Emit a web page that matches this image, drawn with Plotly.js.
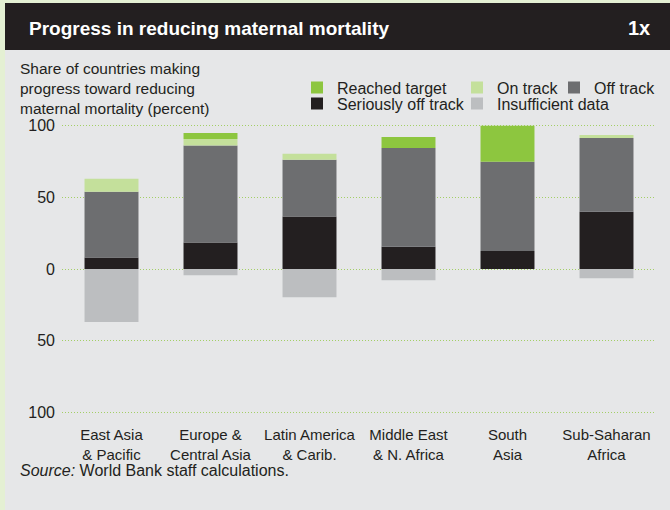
<!DOCTYPE html>
<html>
<head>
<meta charset="utf-8">
<script src="https://cdn.plot.ly/plotly-3.0.1.min.js"></script>
<style>html,body{margin:0;padding:0;background:#e6e7e8;}#chart{width:670px;height:510px;}</style>
</head>
<body>
<div id="chart"></div>
<script>
// ---- data ----
const categories = ["East Asia<br>& Pacific", "Europe &<br>Central Asia", "Latin America<br>& Carib.", "Middle East<br>& N. Africa", "South<br>Asia", "Sub-Saharan<br>Africa"];
const seriouslyOffTrack = [8, 18.6, 36.7, 15.6, 12.5, 40];
const offTrack = [46, 67.7, 39.6, 69, 62.5, 51.6];
const onTrack = [9, 4.6, 4.2, 0, 0, 2.1];
const reachedTarget = [0, 4.2, 0, 7.7, 25, 0];
const insufficientData = [-37, -4.4, -19.8, -7.9, 0, -6.5];
const yTickVals = [-100, -50, 0, 50, 100];
const yTickText = ["100", "50", "0", "50", "100"];
const seriesNames = ["Seriously off track", "Off track", "On track", "Reached target", "Insufficient data"];

// ---- style ----
const W = 670, H = 510;
const FONT = "Liberation Sans, Arial, sans-serif";
const DARK = "#231f20";
const colors = {
  "Reached target": "#8dc63f",
  "On track": "#c4e09b",
  "Off track": "#6d6e70",
  "Seriously off track": "#231f20",
  "Insufficient data": "#bcbec0"
};
const M = {l: 62, r: 14, t: 123, b: 95, pad: 0, autoexpand: false};
const PW = W - M.l - M.r, PH = H - M.t - M.b;
const px = x => (x - M.l) / PW;
const py = y => (H - M.b - y) / PH;

// legend placement: [x of legend box left, y center] in px
const legendSpots = {
  "Reached target": [297, 87.5],
  "On track": [457, 87.5],
  "Off track": [554, 87.5],
  "Seriously off track": [297, 103.5],
  "Insufficient data": [457, 103.5]
};

const seriesValues = [seriouslyOffTrack, offTrack, onTrack, reachedTarget, insufficientData];
const legendIds = {
  "Reached target": "legend",
  "On track": "legend2",
  "Off track": "legend3",
  "Seriously off track": "legend4",
  "Insufficient data": "legend5"
};

const traces = seriesNames.map((name, i) => ({
  type: "bar",
  name: name,
  x: categories,
  y: seriesValues[i],
  marker: {color: colors[name], line: {width: 0}},
  legend: legendIds[name],
  hoverinfo: "x+y+name"
}));

const layout = {
  width: W, height: H,
  margin: M,
  paper_bgcolor: "#e4f0d3",
  plot_bgcolor: "rgba(0,0,0,0)",
  barmode: "relative",
  bargap: 0.455,
  font: {family: FONT, color: DARK, size: 15},
  title: {
    text: "<b>Progress in reducing maternal mortality</b>",
    font: {family: FONT, size: 19, color: "#ffffff"},
    xref: "container", yref: "container",
    x: 29 / W, y: 1 - 28 / H, xanchor: "left", yanchor: "middle"
  },
  xaxis: {
    type: "category",
    range: [-0.5, 5.5],
    showgrid: false, zeroline: false, showline: false,
    ticks: "", tickfont: {family: FONT, size: 15, color: DARK},
    ticklabelstandoff: 9,
    fixedrange: true
  },
  yaxis: {
    range: [-102, 102],
    tickvals: yTickVals, ticktext: yTickText,
    showgrid: true, gridcolor: "#a3cf66", gridwidth: 1, griddash: "1px,2px",
    zeroline: false, showline: false, ticks: "",
    tickfont: {family: FONT, size: 16, color: DARK},
    ticklabelstandoff: 6,
    fixedrange: true
  },
  shapes: [
    {type: "rect", xref: "paper", yref: "paper", layer: "below",
     x0: px(5), x1: px(W + 5), y0: py(3), y1: py(H + 5),
     fillcolor: "#e6e7e8", line: {width: 0}},
    {type: "rect", xref: "paper", yref: "paper", layer: "below",
     x0: px(5), x1: px(W + 5), y0: py(3), y1: py(50),
     fillcolor: DARK, line: {width: 0}}
  ],
  annotations: [
    {text: "<b>1x</b>", xref: "paper", yref: "paper", x: px(652), y: py(28),
     xanchor: "right", yanchor: "middle", showarrow: false,
     font: {family: FONT, size: 20, color: "#ffffff"}},
    {text: "Share of countries making<br>progress toward reducing<br>maternal mortality (percent)",
     xref: "paper", yref: "paper", x: px(18), y: py(88), align: "left",
     xanchor: "left", yanchor: "middle", showarrow: false, font: {size: 15.5}},
    {text: "<i>Source:</i> World Bank staff calculations.", xref: "paper", yref: "paper",
     x: px(18), y: py(471), xanchor: "left", yanchor: "middle", showarrow: false, font: {size: 16}}
  ]
};

Object.keys(legendIds).forEach(name => {
  const id = legendIds[name];
  const [lx, ly] = legendSpots[name];
  layout[id] = {
    xref: "container", yref: "container",
    x: lx / W, y: 1 - ly / H, xanchor: "left", yanchor: "middle",
    bgcolor: "rgba(0,0,0,0)", borderwidth: 0,
    font: {family: FONT, size: 16, color: DARK},
    orientation: "v", traceorder: "normal"
  };
});
layout.showlegend = true;

Plotly.newPlot("chart", traces, layout, {displayModeBar: false, staticPlot: true});
</script>
</body>
</html>
